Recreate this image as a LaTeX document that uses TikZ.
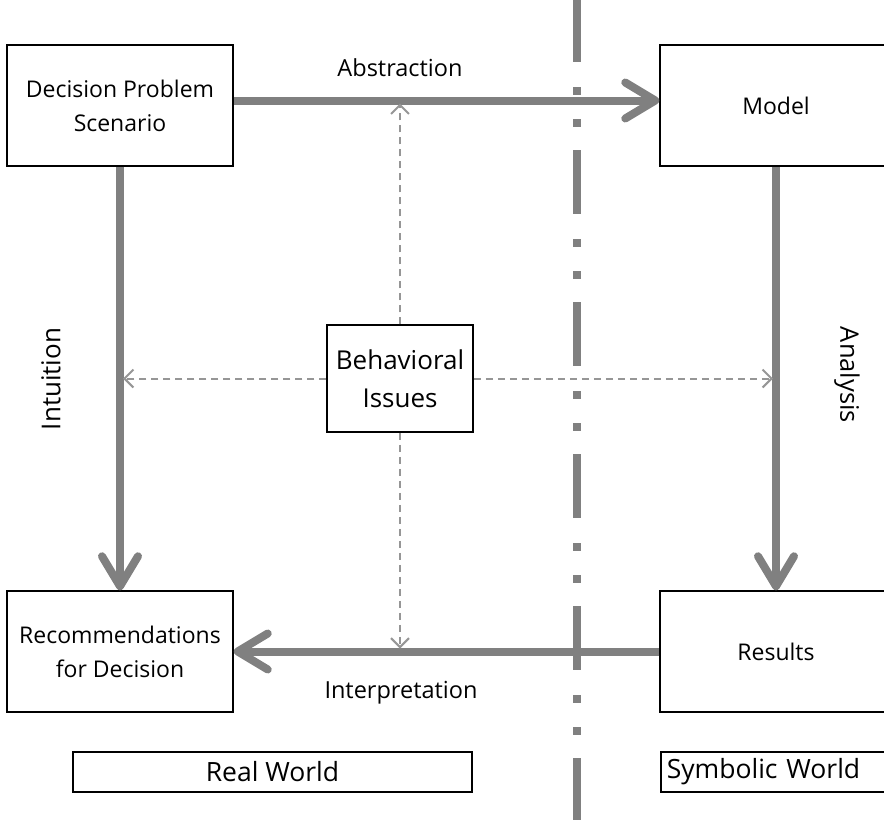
\documentclass[tikz,border=0pt]{standalone}
\usepackage{fontspec}
\setmainfont{Open Sans}
\usetikzlibrary{arrows.meta}
\definecolor{flowgray}{RGB}{128,128,128}
\definecolor{dashgray}{RGB}{150,150,150}

\begin{document}
\begin{tikzpicture}[x=1pt,y=-1pt,
	box/.style={draw,line width=1.5pt,align=center,minimum width=226pt,minimum height=121pt,inner sep=0pt,font=\fontsize{23}{34}\selectfont},
	world/.style={draw,line width=1.5pt,minimum height=40pt,inner sep=6pt,font=\fontsize{26.5}{30}\selectfont},
	flow/.style={flowgray,line width=8pt,-{Straight Barb[length=30pt,width=36pt,round]}},
	infl/.style={dashgray,line width=2pt,dash pattern=on 7pt off 5pt,-{Straight Barb[length=9pt,width=18pt]},shorten >=3pt},
	lbl/.style={font=\fontsize{23.5}{26}\selectfont}]
	\useasboundingbox (0,0) rectangle (884,820);

	% real world | symbolic world
	\coordinate (divtop) at (577,0);
	\coordinate (divbot) at (577,820);
	\draw[flowgray,line width=8pt,dash pattern=on 64pt off 25pt on 8pt off 24pt on 8pt off 23pt,dash phase=2pt] (divtop) -- (divbot);

	\node[box] (dps) at (120,105.5) {Decision Problem\\Scenario};
	\node[box,minimum width=232pt] (model) at (776,105.5) {Model};
	\node[box,minimum width=146pt,minimum height=107pt,font=\fontsize{26}{38}\selectfont] (bi) at (400,378.5) {Behavioral\\Issues};
	\node[box] (rec) at (120,651.5) {Recommendations\\for Decision};
	\node[box,minimum width=232pt] (res) at (776,651.5) {Results};

	\node[world,minimum width=399pt] (rw) at (272.5,772) {Real World};
	\node[world,anchor=west,text width=220pt,align=left] (sw) at (660,772) {Symbolic World};

	% arrow labels
	\node[lbl] (abs) at (400,68) {Abstraction};
	\node[lbl] (int) at (401,693) {Interpretation};
	\node[lbl,font=\fontsize{26}{30}\selectfont,rotate=90] (intu) at (51,379) {Intuition};
	\node[lbl,font=\fontsize{25.5}{30}\selectfont,rotate=-90] (ana) at (847,375) {Analysis};

	\path[flow]
	([yshift=5pt]dps.east) edge ([yshift=5pt]model.west)
	(model.south) edge (res.north)
	(res.west) edge (rec.east)
	(dps.south) edge (rec.north);

	\path[infl]
	(bi.north) edge ([yshift=5pt]bi.north |- dps.east)
	(bi.west) edge (dps.south |- bi.west)
	(bi.east) edge (model.south |- bi.east)
	(bi.south) edge (bi.south |- res.west);
\end{tikzpicture}
\end{document}
